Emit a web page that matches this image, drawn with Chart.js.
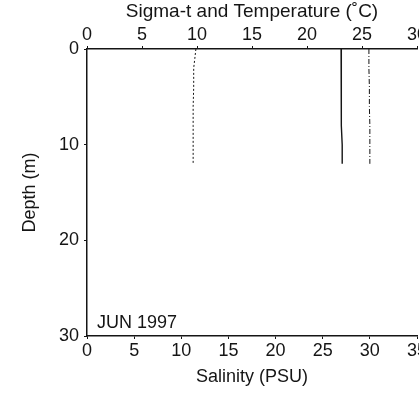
<!DOCTYPE html>
<html>
<head>
<meta charset="utf-8">
<script src="https://cdn.jsdelivr.net/npm/chart.js@4"></script>
<style>
  html, body { margin: 0; padding: 0; background: #fff; }
  #wrap { width: 419px; height: 398px; }
</style>
</head>
<body>
<div id="wrap"><canvas id="profileChart" width="419" height="398"></canvas></div>
<script>
// depth of each reading (m)
const depths = [0, 1, 2, 4, 6, 8, 10, 12];
// top axis values
const sigmaT = [9.9, 9.8, 9.7, 9.7, 9.65, 9.65, 9.65, 9.65];
const temperature = [23.1, 23.1, 23.1, 23.1, 23.15, 23.15, 23.2, 23.2];
// bottom axis values
const salinity = [29.9, 29.9, 29.9, 29.95, 29.95, 30.0, 30.0, 30.0];

const topTicks = [0, 5, 10, 15, 20, 25, 30];
const bottomTicks = [0, 5, 10, 15, 20, 25, 30, 35];
const depthTicks = [0, 10, 20, 30];

const ink = '#151515';
Chart.defaults.color = ink;
Chart.defaults.font.family = "'Liberation Sans', Arial, sans-serif";
Chart.defaults.font.size = 18;

function pairs(xs) {
    return depths.map((d, i) => ({ x: xs[i], y: d }));
}

// pin the axis boxes so the plot area sits where the original one does
function fixBox(size) {
    return function(scale) {
        if (scale.isHorizontal()) scale.height = size;
        else scale.width = size;
        scale.paddingLeft = 0;
        scale.paddingRight = 0;
        scale.paddingTop = 0;
        scale.paddingBottom = 0;
    };
}

const axisGrid = {
    drawOnChartArea: false,
    drawTicks: true,
    tickLength: 3,
    color: ink,
    lineWidth: 1
};

const stampLabel = {
    id: 'stampLabel',
    afterDraw(chart) {
        const { ctx, chartArea } = chart;
        ctx.save();
        ctx.fillStyle = ink;
        ctx.font = "18px 'Liberation Sans', Arial, sans-serif";
        ctx.textBaseline = 'middle';
        ctx.fillText('JUN 1997', chartArea.left + 10, chartArea.bottom - 13);
        ctx.restore();
    }
};

new Chart(document.getElementById('profileChart'), {
    type: 'scatter',
    data: {
        datasets: [
            {
                label: 'Sigma-t',
                data: pairs(sigmaT),
                xAxisID: 'xTop',
                showLine: true,
                borderColor: ink,
                borderWidth: 1,
                borderDash: [2, 2],
                pointRadius: 0
            },
            {
                label: 'Temperature',
                data: pairs(temperature),
                xAxisID: 'xTop',
                showLine: true,
                borderColor: ink,
                borderWidth: 1.4,
                pointRadius: 0
            },
            {
                label: 'Salinity',
                data: pairs(salinity),
                xAxisID: 'x',
                showLine: true,
                borderColor: ink,
                borderWidth: 1,
                borderDash: [5, 2, 1, 2],
                pointRadius: 0
            }
        ]
    },
    options: {
        responsive: false,
        animation: false,
        layout: { padding: { left: 0, right: 2, top: 0, bottom: 0 } },
        plugins: {
            legend: { display: false },
            tooltip: { enabled: false }
        },
        scales: {
            xTop: {
                type: 'linear',
                position: 'top',
                min: 0,
                max: 30,
                afterBuildTicks: s => { s.ticks = topTicks.map(v => ({ value: v })); },
                afterFit: fixBox(49),
                grid: axisGrid,
                border: { color: ink, width: 1.5 },
                ticks: { padding: 0, maxRotation: 0, autoSkip: false },
                title: {
                    display: true,
                    text: 'Sigma-t and Temperature (\u02DAC)',
                    font: { size: 19 },
                    padding: { top: 0, bottom: 0 }
                }
            },
            x: {
                type: 'linear',
                position: 'bottom',
                min: 0,
                max: 35,
                afterBuildTicks: s => { s.ticks = bottomTicks.map(v => ({ value: v })); },
                afterFit: fixBox(62),
                grid: axisGrid,
                border: { color: ink, width: 1.5 },
                ticks: { padding: 1, maxRotation: 0, autoSkip: false },
                title: {
                    display: true,
                    text: 'Salinity (PSU)',
                    padding: { top: 0, bottom: 10 }
                }
            },
            y: {
                type: 'linear',
                position: 'left',
                reverse: true,
                min: 0,
                max: 30,
                afterBuildTicks: s => { s.ticks = depthTicks.map(v => ({ value: v })); },
                afterFit: fixBox(87),
                grid: axisGrid,
                border: { color: ink, width: 1.5 },
                ticks: { padding: 5 },
                title: {
                    display: true,
                    text: 'Depth (m)',
                    padding: { top: 19, bottom: 0 }
                }
            }
        }
    },
    plugins: [stampLabel]
});
</script>
</body>
</html>
